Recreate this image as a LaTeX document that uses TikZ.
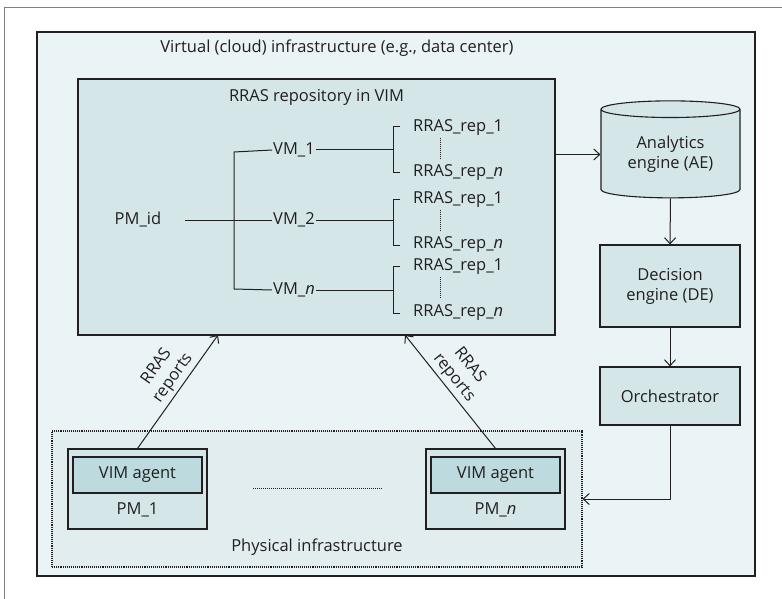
\documentclass[tikz,border=0pt]{standalone}
\usepackage{fontspec}
\setmainfont{Open Sans}
\usetikzlibrary{shapes, shapes.geometric, arrows, arrows.meta}
\definecolor{cloudbg}{HTML}{EAF3F5}
\definecolor{repbg}{HTML}{D5E6E9}
\definecolor{physbg}{HTML}{E1EDEF}
\definecolor{agentbg}{HTML}{BDDADF}
\definecolor{ink}{HTML}{231F20}
\tikzset{
    box/.style={draw=ink, line width=1.1pt, inner sep=0pt},
    lbl/.style={text=ink, inner sep=1pt, font=\fontsize{16.5}{20}\selectfont},
    wire/.style={draw=ink, line width=1pt},
    link/.style={draw=ink, line width=1pt, -{Straight Barb[length=6pt, width=11pt]}}
}
\begin{document}
\begin{tikzpicture}[x=1pt, y=-1pt]
        \useasboundingbox (0,0) rectangle (782,599);
        \pgfmathsetmacro{\brk}{393}
        \pgfmathsetmacro{\repx}{412}

        \draw[gray, line width=0.8pt] (4,599) -- (4,7) -- (782,7);

        \node[box, fill=cloudbg, minimum width=718, minimum height=544] (cloud) at (396,304) {};
        \node[lbl] (cloudtitle) at (337,48) {Virtual (cloud) infrastructure (e.g., data center)};

        \node[box, fill=repbg, minimum width=477, minimum height=256] (rep) at (316.5,207) {};
        \node[lbl] (reptitle) at (316.5,97) {RRAS repository in VIM};

        \node[lbl] (pmid) at (138,220) {PM\_id};
        \node[lbl] (vm1) at (294,150) {VM\_1};
        \node[lbl] (vm2) at (294,220) {VM\_2};
        \node[lbl] (vmn) at (294,290) {VM\_\textit{n}};
        \coordinate (bustop) at (234,152);
        \coordinate (busbot) at (234,289);
        \draw[wire] (185,220) -- (vm2.west);
        \draw[wire] (vm1.west) -- (bustop) -- (busbot) -- (vmn.west);

        \foreach \g/\vy/\ya/\yb in {1/150/128/173, 2/220/200/245, 3/290/267/313} {
            \node[lbl, anchor=west] (rep\g a) at (\repx,\ya) {RRAS\_rep\_1};
            \node[lbl, anchor=west] (rep\g b) at (\repx,\yb) {RRAS\_rep\_\textit{n}};
            \draw[wire] (400,\ya-1) -- (\brk,\ya-1) -- (\brk,\yb) -- (400,\yb);
            \draw[wire, densely dotted] (440,\ya+10) -- (440,\yb-14);
        }
        \draw[wire] (vm1.east) -- (\brk,150);
        \draw[wire] (vm2.east) -- (\brk,220);
        \draw[wire] (vmn.east) -- (\brk,290);

        \node[box, cylinder, shape border rotate=90, aspect=0.19, fill=repbg,
              minimum width=139, minimum height=97, align=center, lbl] (ae) at (670.5,154.5)
              {Analytics\\engine (AE)};
        \node[box, fill=repbg, minimum width=140, minimum height=82, align=center, lbl] (de) at (670,286)
              {Decision\\engine (DE)};
        \node[box, fill=repbg, minimum width=140, minimum height=58, lbl] (orch) at (670,396) {Orchestrator};

        \node[box, densely dotted, fill=physbg, minimum width=530, minimum height=136] (phys) at (317,499) {};
        \node[lbl] (physlbl) at (317,547) {Physical infrastructure};

        \node[box, fill=repbg, minimum width=139, minimum height=80] (pm1) at (137.5,489) {};
        \node[box, fill=agentbg, minimum width=129, minimum height=36, lbl] (ag1) at (137.5,475) {VIM agent};
        \node[lbl] (pm1lbl) at (137.5,510) {PM\_1};
        \node[box, fill=repbg, minimum width=139, minimum height=80] (pmn) at (495.5,489) {};
        \node[box, fill=agentbg, minimum width=129, minimum height=36, lbl] (agn) at (495.5,475) {VIM agent};
        \node[lbl] (pmnlbl) at (495.5,510) {PM\_\textit{n}};
        \draw[wire, densely dotted] (253,488) -- (382,488);

        \coordinate (in1) at (218,335);
        \coordinate (inn) at (405,335);
        \draw[link] (pm1.north) -- (in1)
            node[lbl, sloped, above=2pt, pos=0.56, align=center] {RRAS\\reports};
        \draw[link] (pmn.north) -- (inn)
            node[lbl, sloped, above=2pt, pos=0.56, align=center] {RRAS\\reports};

        \draw[link] (ae.west -| rep.east) -- (ae.west);
        \draw[link] (ae.south) -- (de.north);
        \draw[link] (de.south) -- (orch.north);
        \draw[link] (orch.south) |- (phys.east);
    \end{tikzpicture}
\end{document}
